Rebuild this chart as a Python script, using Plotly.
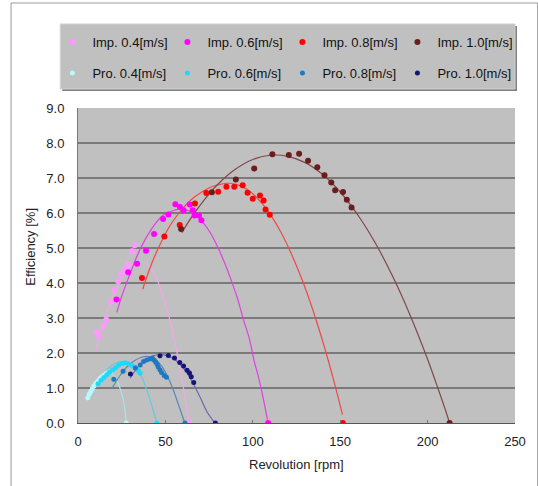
import plotly.graph_objects as go

# ---------------- data ----------------
imp04_x = [10.7, 12.1, 14.5, 16.2, 18.8, 21.1, 23.0, 24.8, 26.5, 28.5, 30.9, 32.5, 63.5]
imp04_y = [2.58, 2.47, 2.77, 2.95, 3.46, 3.81, 4.05, 4.24, 4.38, 4.53, 4.91, 5.08, 0.0]
imp04_fx = [10.5, 12.5, 15, 18, 21, 24, 27, 30, 33, 36, 39, 42, 45, 48, 51, 54, 57, 60, 63.3]
imp04_fy = [2.10, 2.55, 2.95, 3.35, 3.72, 4.05, 4.30, 4.48, 4.58, 4.62, 4.56, 4.40, 4.12, 3.73, 3.24, 2.64, 1.93, 1.10, 0.10]

imp06_x = [22.0, 28.7, 33.8, 38.9, 43.5, 48.7, 51.7, 55.7, 58.3, 60.4, 64.0, 65.6, 66.7, 69.2, 70.6, 108.8]
imp06_y = [3.53, 4.31, 4.55, 4.92, 5.40, 5.83, 5.96, 6.25, 6.17, 6.08, 6.24, 6.08, 5.93, 5.93, 5.79, 0.0]
imp06_fx = [22.2, 25, 29.3, 33, 37.0, 41, 44.8, 48.5, 52.5, 58.3, 64.0, 68, 71.8, 75.5, 79.5, 83.5, 87.2, 91, 94.9, 98, 100.7, 103, 105.5, 108.4]
imp06_fy = [3.16, 3.62, 4.20, 4.68, 5.11, 5.46, 5.73, 5.93, 6.03, 6.11, 6.05, 5.91, 5.71, 5.45, 5.07, 4.62, 4.14, 3.60, 2.91, 2.42, 1.79, 1.36, 0.82, 0.10]

imp08_x = [36.6, 49.4, 58.2, 66.9, 73.4, 80.2, 84.9, 89.4, 94.2, 97.0, 100.0, 104.1, 106.2, 107.3, 109.7, 151.5]
imp08_y = [4.14, 5.33, 5.66, 6.27, 6.57, 6.61, 6.75, 6.75, 6.79, 6.58, 6.41, 6.50, 6.36, 6.10, 5.95, 0.0]
imp08_fx = [37, 40.8, 44.8, 48.7, 52.5, 57, 62.1, 67, 71.8, 76.5, 81.4, 86, 91, 96.8, 101.5, 106.5, 111.3, 116.1, 121, 125.8, 130.6, 135.4, 139.3, 143.1, 146, 148.9, 151.3]
imp08_fy = [3.82, 4.38, 4.87, 5.28, 5.63, 5.95, 6.25, 6.47, 6.63, 6.75, 6.82, 6.85, 6.81, 6.67, 6.48, 6.20, 5.86, 5.45, 4.95, 4.39, 3.77, 3.07, 2.45, 1.80, 1.27, 0.72, 0.24]

imp10_x = [59.0, 76.6, 90.3, 100.8, 111.2, 120.6, 126.5, 131.6, 136.9, 141.0, 144.9, 147.1, 151.6, 153.8, 156.5, 212.6]
imp10_y = [5.54, 6.59, 6.96, 7.27, 7.68, 7.66, 7.69, 7.49, 7.31, 7.08, 6.87, 6.65, 6.60, 6.38, 6.16, 0.0]
imp10_fx = [59.4, 65, 72, 80, 90, 100, 110, 120, 130, 140, 150, 160, 170, 180, 190, 200, 206, 210, 212.6]
imp10_fy = [5.44, 5.88, 6.36, 6.82, 7.25, 7.53, 7.65, 7.62, 7.44, 7.10, 6.60, 5.95, 5.15, 4.19, 3.08, 1.82, 0.98, 0.40, 0.0]

pro04_x = [5.6, 6.4, 7.3, 8.2, 9.1, 10.1, 11.0, 12.0, 13.0, 14.0, 15.1, 16.3, 17.5, 27.6]
pro04_y = [0.72, 0.82, 0.90, 0.98, 1.06, 1.12, 1.17, 1.23, 1.29, 1.33, 1.37, 1.42, 1.45, 0.0]
pro04_fx = [5.3, 8, 11, 14, 17, 19.5, 22, 24, 25.5, 26.7, 27.5]
pro04_fy = [0.65, 0.95, 1.20, 1.37, 1.44, 1.40, 1.24, 1.00, 0.74, 0.45, 0.05]

pro06_x = [11.5, 13.2, 14.8, 16.5, 18.0, 19.8, 21.5, 23.2, 25.0, 26.8, 28.5, 30.5, 32.5, 34.5, 35.5, 45.1]
pro06_y = [1.12, 1.22, 1.30, 1.38, 1.45, 1.52, 1.58, 1.65, 1.70, 1.72, 1.70, 1.65, 1.60, 1.50, 1.42, 0.0]
pro06_fx = [9, 13, 17, 21, 25, 28, 31, 34, 37, 40, 42.5, 44.8]
pro06_fy = [0.98, 1.30, 1.55, 1.70, 1.76, 1.75, 1.67, 1.52, 1.25, 0.85, 0.45, 0.05]

pro08_x = [20.5, 25.8, 32.8, 35.6, 37.5, 39.3, 41.2, 42.5, 43.5, 44.4, 45.3, 45.9, 46.9, 47.8, 49.3, 50.6, 61.2]
pro08_y = [1.25, 1.48, 1.57, 1.66, 1.76, 1.80, 1.83, 1.86, 1.80, 1.74, 1.68, 1.60, 1.52, 1.44, 1.36, 1.31, 0.0]
pro08_fx = [19.5, 24, 28, 32, 36, 40, 44, 48, 52, 55, 58, 60.9]
pro08_fy = [1.00, 1.35, 1.60, 1.77, 1.87, 1.90, 1.83, 1.62, 1.25, 0.88, 0.45, 0.03]

pro10_x = [30.0, 46.9, 51.7, 55.2, 58.2, 60.4, 62.4, 63.8, 64.8, 66.2, 78.6]
pro10_y = [1.40, 1.92, 1.93, 1.86, 1.73, 1.63, 1.51, 1.43, 1.32, 1.16, 0.0]
pro10_fx = [29.8, 34, 38, 42, 46, 50, 54, 58, 62, 66, 70, 74, 78.4]
pro10_fy = [1.28, 1.58, 1.78, 1.90, 1.95, 1.94, 1.86, 1.70, 1.46, 1.12, 0.72, 0.30, 0.0]

series = [
    # name, x, y, fit x, fit y, marker colour, line colour, marker size, legend
    ("Imp. 0.4[m/s]", imp04_x, imp04_y, imp04_fx, imp04_fy, "#ff99ff", "#f4a6e6", 6, "legend"),
    ("Imp. 0.6[m/s]", imp06_x, imp06_y, imp06_fx, imp06_fy, "#ff00ff", "#e040e0", 6, "legend"),
    ("Imp. 0.8[m/s]", imp08_x, imp08_y, imp08_fx, imp08_fy, "#ff0000", "#f04848", 6, "legend"),
    ("Imp. 1.0[m/s]", imp10_x, imp10_y, imp10_fx, imp10_fy, "#6b1c1c", "#80484a", 6, "legend"),
    ("Pro. 0.4[m/s]", pro04_x, pro04_y, pro04_fx, pro04_fy, "#b8f8ff", "#a8e4ec", 5, "legend2"),
    ("Pro. 0.6[m/s]", pro06_x, pro06_y, pro06_fx, pro06_fy, "#20d8f8", "#68c8dc", 5, "legend2"),
    ("Pro. 0.8[m/s]", pro08_x, pro08_y, pro08_fx, pro08_fy, "#2078c0", "#5a88b4", 5, "legend2"),
    ("Pro. 1.0[m/s]", pro10_x, pro10_y, pro10_fx, pro10_fy, "#14147a", "#6a6aa8", 5, "legend2"),
]

fig = go.Figure()
for name, x, y, fx, fy, mc, lc, ms, lg in series:
    fig.add_trace(go.Scatter(x=fx, y=fy, mode="lines", line=dict(color=lc, width=1.2, shape="spline", smoothing=0.8),
                             showlegend=False, hoverinfo="skip"))
for name, x, y, fx, fy, mc, lc, ms, lg in series:
    fig.add_trace(go.Scatter(x=x, y=y, mode="markers", name=name, legend=lg,
                             marker=dict(color=mc, size=ms, line=dict(width=0))))

W, H = 538, 486
L, R, T, B = 78, 16, 108, 63
pw, ph = W - L - R, H - T - B
def px(xp):
    return (xp - L) / pw
def py(yp):
    return (H - B - yp) / ph

font = "Liberation Sans, Arial, sans-serif"
fig.update_layout(
    width=W, height=H,
    margin=dict(l=L, r=R, t=T, b=B),
    paper_bgcolor="white", plot_bgcolor="#c0c0c0",
    font=dict(family=font, size=12, color="#222"),
    xaxis=dict(range=[0, 250], dtick=50, showgrid=False, zeroline=False,
               showline=True, linecolor="#555", linewidth=1,
               ticks="inside", ticklen=3, tickcolor="#777",
               tickfont=dict(size=13), ticklabelstandoff=6),
    yaxis=dict(range=[0, 9], dtick=1, tickformat=".1f", showgrid=True,
               gridcolor="#7a7a7a", gridwidth=1.6, zeroline=False,
               showline=True, linecolor="#777", linewidth=1,
               ticks="", tickfont=dict(size=13), ticklabelstandoff=10),
    legend=dict(orientation="h", x=px(52), y=py(42), xanchor="left", yanchor="middle",
                bgcolor="rgba(0,0,0,0)", font=dict(size=13, color="#111"),
                entrywidth=70, itemclick=False),
    legend2=dict(orientation="h", x=px(52), y=py(73), xanchor="left", yanchor="middle",
                 bgcolor="rgba(0,0,0,0)", font=dict(size=13, color="#111"),
                 entrywidth=70, itemclick=False),
    shapes=[
        dict(type="rect", xref="paper", yref="paper", x0=px(10), x1=px(545), y0=py(495), y1=py(3),
             line=dict(color="#9a9a9a", width=1), fillcolor="rgba(0,0,0,0)", layer="below"),
        dict(type="rect", xref="paper", yref="paper", x0=px(62), x1=px(524), y0=py(91), y1=py(26),
             line=dict(width=0), fillcolor="#7f7f7f", layer="below"),
        dict(type="rect", xref="paper", yref="paper", x0=px(60), x1=px(522), y0=py(89), y1=py(24),
             line=dict(color="#d0d0d0", width=1), fillcolor="#c0c0c0", layer="below"),
    ],
    annotations=[
        dict(text="Revolution [rpm]", xref="paper", yref="paper", x=px(300), y=py(464),
             xanchor="center", yanchor="middle",
             showarrow=False, font=dict(size=13, color="#222")),
        dict(text="Efficiency [%]", xref="paper", yref="paper", x=px(29), y=py(247),
             xanchor="center", yanchor="middle",
             showarrow=False, textangle=-90, font=dict(size=13, color="#222")),
    ],
)
fig.write_html("out.html")
